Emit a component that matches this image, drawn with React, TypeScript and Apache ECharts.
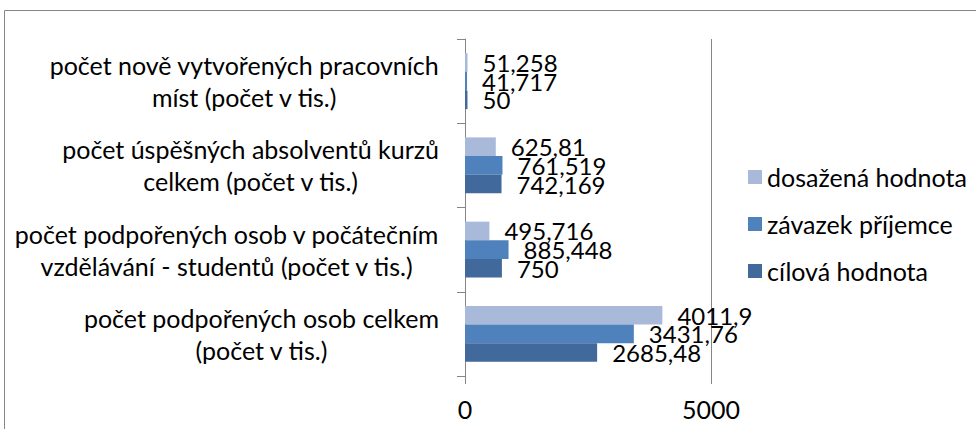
import React, { useEffect, useRef } from "react";
import * as echarts from "echarts";

const categories = [
  "počet podpořených osob celkem\n(počet v tis.)",
  "počet podpořených osob v počátečním\nvzdělávání - studentů (počet v tis.)",
  "počet úspěšných absolventů kurzů\ncelkem (počet v tis.)",
  "počet nově vytvořených pracovních\nmíst (počet v tis.)",
];
const seriesNames = ["dosažená hodnota", "závazek příjemce", "cílová hodnota"];
const dosazenaHodnota = [4011.9, 495.716, 625.81, 51.258];
const zavazekPrijemce = [3431.76, 885.448, 761.519, 41.717];
const cilovaHodnota = [2685.48, 750, 742.169, 50];
const xMin = 0;
const xMax = 5000;
const xInterval = 5000;

const colors = ["#A9B9D9", "#4F81BD", "#41699B"];
const FONT = "Lato";
const AXIS = "#868686";

export default function App() {
  const ref = useRef<HTMLDivElement>(null);
  useEffect(() => {
    if (!ref.current) return;
    const chart = echarts.init(ref.current, undefined, { renderer: "svg" });
    const values = [dosazenaHodnota, zavazekPrijemce, cilovaHodnota];
    const fmt = (v: number) => String(v).replace(".", ",");
    chart.setOption({
      animation: false,
      textStyle: { fontFamily: FONT },
      grid: { left: 465, right: 265, top: 39, bottom: 53, containLabel: false },
      legend: {
        orient: "vertical",
        left: 743,
        top: 158,
        itemWidth: 14,
        itemHeight: 14,
        itemGap: 19,
        icon: "rect",
        data: seriesNames,
        textStyle: { fontFamily: FONT, fontSize: 25, color: "#000", lineHeight: 28 },
      },
      xAxis: {
        type: "value",
        min: xMin,
        max: xMax,
        interval: xInterval,
        axisLine: { show: false },
        axisTick: { show: true, length: 8, lineStyle: { color: AXIS } },
        splitLine: { show: true, lineStyle: { color: AXIS, width: 1 } },
        axisLabel: {
          color: "#000",
          fontSize: 25,
          fontFamily: FONT,
          margin: 20,
          formatter: (v: number) => String(v),
        },
      },
      yAxis: {
        type: "category",
        data: categories,
        axisLine: { show: true, lineStyle: { color: AXIS } },
        axisTick: { show: true, length: 8, lineStyle: { color: AXIS } },
        axisLabel: {
          color: "#000",
          fontSize: 25,
          fontFamily: FONT,
          margin: 26,
          align: "right",
          lineHeight: 32,
          formatter: (v: string) =>
            v.split("\n").map((l) => `{c|${l}}`).join("\n"),
          rich: { c: { align: "center", fontSize: 25, fontFamily: FONT, lineHeight: 32, color: "#000" } },
        },
      },
      series: seriesNames.map((name, i) => ({
        name,
        type: "bar",
        data: values[i],
        barGap: "0%",
        barCategoryGap: "33.6%",
        itemStyle: { color: colors[i] },
        label: {
          show: true,
          position: "right",
          distance: 15,
          color: "#000",
          fontSize: 24,
          fontFamily: FONT,
          formatter: (p: any) => fmt(p.value),
        },
      })),
      graphic: [
        {
          type: "rect",
          shape: { x: 4.5, y: 10.5, width: 1000, height: 500 },
          style: { fill: "none", stroke: AXIS, lineWidth: 1 },
          silent: true,
        },
      ],
    });
    return () => chart.dispose();
  }, []);
  return (
    <div
      ref={ref}
      style={{ position: "absolute", left: 0, top: 0, width: 976, height: 429, background: "#fff" }}
    />
  );
}
